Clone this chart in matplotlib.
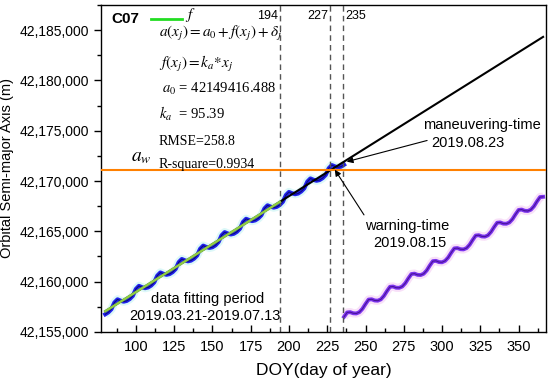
import matplotlib
matplotlib.use("Agg")
import matplotlib.pyplot as plt
from matplotlib.ticker import MultipleLocator, FuncFormatter
from matplotlib.lines import Line2D

plt.rcParams['font.family'] = ['Liberation Sans', 'DejaVu Sans']
plt.rcParams['mathtext.fontset'] = 'stix'

# ---- data ----
blue_days = list(range(80, 237, 2))
blue_sma = [42156750, 42156940, 42157250, 42157920, 42158230, 42158100, 42158010,
            42158080, 42158270, 42158580, 42159260, 42159570, 42159440, 42159350,
            42159420, 42159610, 42159920, 42160590, 42160900, 42160770, 42160680,
            42160750, 42160940, 42161250, 42161930, 42162240, 42162110, 42162020,
            42162090, 42162280, 42162590, 42163260, 42163570, 42163440, 42163350,
            42163420, 42163610, 42163930, 42164600, 42164910, 42164780, 42164690,
            42164760, 42164950, 42165260, 42165930, 42166240, 42166110, 42166020,
            42166090, 42166290, 42166600, 42167270, 42167580, 42167450, 42167360,
            42167430, 42167620, 42167930, 42168600, 42168910, 42168780, 42168690,
            42168760, 42168960, 42169270, 42169940, 42170250, 42170120, 42170030,
            42170100, 42170290, 42170600, 42171270, 42171580, 42171450, 42171360,
            42171430, 42171620]

purple_days = list(range(236, 367, 2))
purple_sma = [42156500, 42156930, 42156960, 42156850, 42156830, 42156960, 42157290,
              42157770, 42158210, 42158240, 42158120, 42158100, 42158230, 42158570,
              42159050, 42159480, 42159510, 42159390, 42159380, 42159510, 42159840,
              42160320, 42160750, 42160790, 42160670, 42160650, 42160780, 42161110,
              42161600, 42162030, 42162060, 42161940, 42161920, 42162060, 42162390,
              42162870, 42163300, 42163330, 42163220, 42163200, 42163330, 42163660,
              42164140, 42164580, 42164610, 42164490, 42164470, 42164600, 42164940,
              42165420, 42165850, 42165880, 42165760, 42165750, 42165880, 42166210,
              42166690, 42167120, 42167160, 42167040, 42167020, 42167150, 42167480,
              42167970, 42168400, 42168430]

a0 = 42149416.488
ka = 95.39
fit_period = [80, 194]
fit_extended = [80, 366]
a_w = 42171070
vlines = [194, 227, 235]
vline_labels = ['194', '227', '235']

# ---- figure ----
fig = plt.figure(figsize=(5.5, 3.85), dpi=100)
ax = fig.add_axes([0.183, 0.138, 0.810, 0.849])

ax.plot(blue_days, blue_sma, color='#dcf8f8', lw=6, solid_capstyle='butt', zorder=1)
ax.plot(purple_days, purple_sma, color='#f8e0f8', lw=6, solid_capstyle='butt', zorder=1)
ax.plot(blue_days, blue_sma, color='#2222ee', lw=3.0, zorder=2)
ax.plot(blue_days, blue_sma, color='#0a0a80', lw=0.8, zorder=2)
ax.plot(purple_days, purple_sma, color='#7b33ee', lw=2.8, zorder=2)
ax.plot(purple_days, purple_sma, color='#4a1399', lw=0.8, zorder=2)

ax.plot(fit_extended, [a0 + ka * x for x in fit_extended], color='black', lw=1.5, zorder=3)
ax.plot(fit_period, [a0 + ka * x for x in fit_period], color='#90cc44', lw=1.8, zorder=4)

ax.axhline(a_w, color='#ff8000', lw=1.5, zorder=3)
for v in vlines:
    ax.axvline(v, color='#555555', lw=1.0, ls=(0, (4, 3)), zorder=2)

ax.set_xlim(77, 368)
ax.set_ylim(42155000, 42187500)
ax.xaxis.set_major_locator(MultipleLocator(25))
ax.xaxis.set_minor_locator(MultipleLocator(12.5))
ax.yaxis.set_major_locator(MultipleLocator(5000))
ax.yaxis.set_minor_locator(MultipleLocator(2500))
ax.yaxis.set_major_formatter(FuncFormatter(lambda v, p: f"{v:,.0f}"))
ax.tick_params(axis='x', which='both', direction='in', labelsize=10.5, pad=6)
ax.tick_params(axis='y', which='both', direction='out', labelsize=10)
ax.tick_params(which='major', length=5, width=1)
ax.tick_params(which='minor', length=3, width=1)
for s in ax.spines.values():
    s.set_linewidth(1.0)

ax.set_xlabel('DOY(day of year)', fontsize=12.5, labelpad=6)
ax.set_ylabel('Orbital Semi-major Axis (m)', fontsize=10.5, labelpad=4)

# top labels of vertical lines
ax.text(193, 42186400, vline_labels[0], ha='right', va='center', fontsize=9)
ax.text(226, 42186400, vline_labels[1], ha='right', va='center', fontsize=9)
ax.text(237, 42186400, vline_labels[2], ha='left', va='center', fontsize=9)

# C07 + legend
ax.text(84, 42186100, 'C07', fontsize=11, fontweight='bold', ha='left', va='center')
ax.add_line(Line2D([110, 130], [42186100, 42186100], color='#22dd22', lw=2))
ax.text(132, 42186500, r'$f$', fontsize=11, ha='left', va='center')

# formulas
ax.text(115, 42184700, r'$a(x_j) = a_0 + f(x_j) + \delta_j$', fontsize=11, ha='left', va='center')
ax.text(115, 42181600, r'$f(x_j) = k_a{*}x_j$', fontsize=11, ha='left', va='center')
ax.text(117, 42179200, r'$a_0$ = 42149416.488', fontsize=10.5, ha='left', va='center',
        family='Liberation Serif')
ax.text(115, 42176700, r'$k_a$  = 95.39', fontsize=10.5, ha='left', va='center',
        family='Liberation Serif')
ax.text(115, 42173950, 'RMSE=258.8', fontsize=10, ha='left', va='center', family='Liberation Serif')
ax.text(115, 42171650, 'R-square=0.9934', fontsize=10, ha='left', va='center', family='Liberation Serif')
ax.text(96.5, 42172300, r'$a_w$', fontsize=14, ha='left', va='center')

# annotations
ax.annotate('', xy=(236, 42171850), xytext=(292, 42174100),
            arrowprops=dict(arrowstyle='-|>', color='black', lw=0.8, mutation_scale=9))
ax.text(326, 42175600, 'maneuvering-time', fontsize=10.5, ha='center', va='center')
ax.text(317, 42173820, '2019.08.23', fontsize=10.5, ha='center', va='center')

ax.annotate('', xy=(229, 42171350), xytext=(250, 42166400),
            arrowprops=dict(arrowstyle='-|>', color='black', lw=0.8, mutation_scale=9))
ax.text(277.5, 42165500, 'warning-time', fontsize=10.5, ha='center', va='center')
ax.text(279, 42163830, '2019.08.15', fontsize=10.5, ha='center', va='center')

ax.text(147, 42158300, 'data fitting period', fontsize=10.5, ha='center', va='center')
ax.text(145, 42156610, '2019.03.21-2019.07.13', fontsize=10.5, ha='center', va='center')

fig.savefig('out.png', dpi=100)
